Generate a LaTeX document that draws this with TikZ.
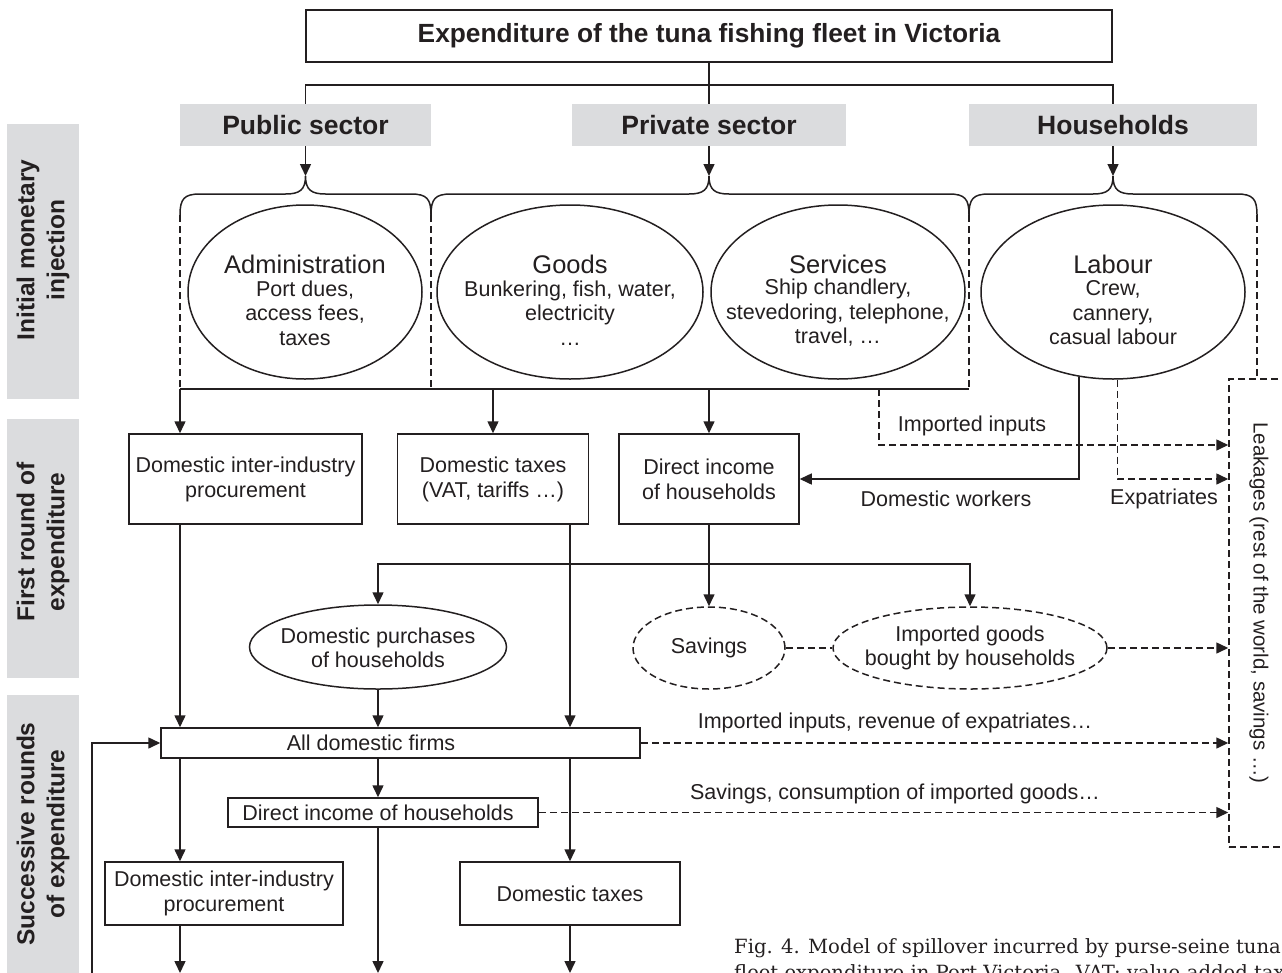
\documentclass[tikz,border=0pt]{standalone}
\usepackage{fontspec}
\setmainfont{Liberation Sans}
\newfontfamily\capfont{DejaVu Serif}
\usetikzlibrary{arrows.meta,shapes.geometric}
\definecolor{ink}{HTML}{231F20}
\definecolor{bandgray}{HTML}{DBDCDE}
\newcommand\fsz[2]{\fontsize{#1pt}{#2pt}\selectfont}
\newcommand\bracedraw[3]{%
  \draw[ln] (#1,215) .. controls (#1,199) and (#1+4,194) .. (#1+20,194) -- (#2-20,194)
    .. controls (#2-6,194) and (#2,190) .. (#2,176)
    .. controls (#2,190) and (#2+6,194) .. (#2+20,194) -- (#3-20,194)
    .. controls (#3-4,194) and (#3,199) .. (#3,215);}
\tikzset{
  ln/.style={draw=ink, line width=1.5pt},
  arr/.style={ln, -{Triangle[length=12pt,width=11pt]}},
  dsh/.style={ln, dash pattern=on 7pt off 4pt},
  darr/.style={dsh, -{Triangle[length=12pt,width=11pt]}},
  box/.style={draw=ink, line width=1.5pt, rectangle, inner sep=0pt, align=center, text=ink, font=\fsz{21.5}{25}},
  hdr/.style={fill=bandgray, rectangle, inner sep=0pt, align=center, text=ink, font=\bfseries\fsz{26.5}{30}},
  sideband/.style={fill=bandgray, rectangle, inner sep=0pt, minimum width=72},
  sidetext/.style={inner sep=0pt, align=center, text=ink, font=\bfseries\fsz{24.5}{30}, rotate=90},
  ell/.style={draw=ink, line width=1.5pt, ellipse, inner sep=0pt},
  dell/.style={ell, dash pattern=on 7pt off 4pt},
  txt/.style={inner sep=0pt, align=center, text=ink, font=\fsz{21.5}{24.5}},
  hd/.style={inner sep=0pt, text=ink, font=\fsz{25.5}{28}},
  captxt/.style={anchor=base west, inner sep=0pt, text=ink, font=\capfont\fsz{19.6}{26}},
}
\begin{document}
\begin{tikzpicture}[x=1pt,y=-1pt]
\useasboundingbox (0,0) rectangle (1282,972);
\clip (0,0) rectangle (1282,972);

% side bands
\node[sideband, minimum height=275] (s1) at (43,261.5) {};
\node[sideband, minimum height=259] (s2) at (43,548.5) {};
\node[sideband, minimum height=278] (s3) at (43,834) {};
\node[sidetext] (s1t) at (43,250) {Initial monetary\\injection};
\node[sidetext] (s2t) at (43,542) {First round of\\expenditure};
\node[sidetext] (s3t) at (43,834) {Successive rounds\\of expenditure};

% title and sectors
\node[box, font=\bfseries\fsz{26.3}{30}, minimum width=806, minimum height=52] (title) at (709,36) {Expenditure of the tuna fishing fleet in Victoria};
\node[hdr, minimum width=251, minimum height=42] (pub) at (305.5,125) {Public sector};
\node[hdr, minimum width=274, minimum height=42] (priv) at (709,125) {Private sector};
\node[hdr, minimum width=288, minimum height=42] (hh) at (1113,125) {Households};

\coordinate (tj) at (709,85);
\draw[ln] (title.south) -- (priv.north);
\draw[ln] (pub.north) |- (tj) -| (hh.north);

\coordinate (pubtip) at (305.5,176);
\coordinate (privtip) at (709,176);
\coordinate (hhtip) at (1113,176);
\draw[arr] (pub.south) -- (pubtip);
\draw[arr] (priv.south) -- (privtip);
\draw[arr] (hh.south) -- (hhtip);

\bracedraw{180}{305.5}{431}
\bracedraw{431}{709}{969}
\bracedraw{969}{1113}{1257}

% ellipses of initial injection
\node[ell, minimum width=234, minimum height=174] (adm) at (305,292) {};
\node[ell, minimum width=266, minimum height=174] (goods) at (570,292) {};
\node[ell, minimum width=254, minimum height=174] (serv) at (838,292) {};
\node[ell, minimum width=264, minimum height=174] (lab) at (1113,292) {};
\node[hd] (admh) at (305,264) {Administration};
\node[txt] (admt) at (305,313) {Port dues,\\access fees,\\taxes};
\node[hd] (goodsh) at (570,264) {Goods};
\node[txt] (goodst) at (570,313) {Bunkering, fish, water,\\electricity\\…};
\node[hd] (servh) at (838,264) {Services};
\node[txt] (servt) at (838,313) {Ship chandlery,\\stevedoring, telephone,\\travel, …};
\node[hd] (labh) at (1113,264) {Labour};
\node[txt] (labt) at (1113,313) {Crew,\\cannery,\\casual labour};

% leakage box
\node[draw=ink, line width=1.5pt, dash pattern=on 7pt off 4pt, rectangle, inner sep=0pt, minimum width=71, minimum height=468] (leak) at (1264.5,613) {};
\node[txt, font=\fsz{20.5}{24}, rotate=-90] (leakt) at (1259,603) {Leakages (rest of the world, savings …)};

% dashed verticals under braces
\coordinate (v1) at (180,215);
\coordinate (v2) at (431,215);
\coordinate (v3) at (969,215);
\coordinate (v4) at (1257,215);
\coordinate (h1) at (180,389);
\coordinate (h3) at (969,389);
\draw[dsh] (v1) -- (h1);
\draw[dsh] (v2) -- (v2 |- h1);
\draw[dsh] (v3) -- (h3);
\draw[dsh] (v4) -- (v4 |- leak.north);
\draw[ln] (h1) -- (h3);

% first round boxes
\node[box, minimum width=233, minimum height=90] (dip1) at (245.5,479) {Domestic inter-industry\\procurement};
\node[box, minimum width=191, minimum height=90] (dt1) at (493,479) {Domestic taxes\\(VAT, tariffs …)};
\node[box, minimum width=180, minimum height=90] (dih1) at (709,479) {Direct income\\of households};

\draw[arr] (h1) -- (dip1.north -| h1);
\draw[arr] (dt1.north |- h1) -- (dt1.north);
\draw[arr] (dih1.north |- h1) -- (dih1.north);

% imported inputs
\coordinate (ii) at (879,389);
\coordinate (r445) at (0,445);
\draw[darr] (ii) |- (leak.west |- r445);
\node[txt] (iil) at (972,426) {Imported inputs};

% labour flows
\draw[arr] (lab.248) |- (dih1.east);
\draw[darr] (lab.273) |- (leak.west |- dih1.east);
\node[txt] (dwl) at (946,499) {Domestic workers};
\node[txt] (exl) at (1164,499) {Expatriates};

% household spending
\node[ell, minimum width=257, minimum height=84] (dp) at (378,647) {};
\node[txt] (dpt) at (378,648) {Domestic purchases\\of households};
\node[dell, minimum width=152, minimum height=82] (sav) at (709,648) {};
\node[txt] (savt) at (709,648) {Savings};
\node[dell, minimum width=274, minimum height=82] (ig) at (970,648) {};
\node[txt] (igt) at (970,648) {Imported goods\\bought by households};

\coordinate (sp) at (709,564);
\draw[ln] (dih1.south) -- (sp);
\draw[arr] (sp) -- (sav.north);
\draw[arr] (sp) -| (dp.north);
\draw[arr] (sp) -| (ig.north);
\draw[dsh] (sav.east) -- (ig.west);
\draw[darr] (ig.east) -- (leak.west |- ig.east);

% successive rounds
\node[box, minimum width=479, minimum height=30] (adf) at (400.5,743) {};
\node[txt] (adft) at (371,743) {All domestic firms};
\coordinate (c570) at (570,0);

\draw[arr] (dip1.south -| h1) -- (adf.north -| h1);
\draw[arr] (dp.south) -- (adf.north -| dp.south);
\draw[arr] (dt1.south -| c570) -- (adf.north -| c570);

\coordinate (fb) at (92,990);
\draw[arr] (fb) |- (adf.west);

\draw[darr] (adf.east) -- (leak.west |- adf.east);
\node[txt] (adfl) at (895,723) {Imported inputs, revenue of expatriates…};

\node[box, minimum width=310, minimum height=29] (dih2) at (383,812.5) {};
\node[txt] (dih2t) at (378,812.5) {Direct income of households};
\node[box, minimum width=238, minimum height=63] (dip2) at (224,893.5) {Domestic inter-industry\\procurement};
\node[box, minimum width=220, minimum height=63] (dt2) at (570,893.5) {Domestic taxes};

\draw[arr] (adf.south -| h1) -- (dip2.north -| h1);
\draw[arr] (adf.south -| dp.south) -- (dih2.north -| dp.south);
\draw[arr] (adf.south -| c570) -- (dt2.north -| c570);

\draw[darr] (dih2.east) -- (leak.west |- dih2.east);
\node[txt] (dih2l) at (895,794) {Savings, consumption of imported goods…};

\coordinate (e1) at (180,973);
\coordinate (e2) at (378,973);
\coordinate (e3) at (570,973);
\draw[arr] (dip2.south -| h1) -- (e1);
\draw[arr] (dih2.south -| dp.south) -- (e2);
\draw[arr] (dt2.south -| c570) -- (e3);

% caption (cut by the frame, as in the reference)
\node[captxt] (cap1) at (734,953) {Fig. 4. Model of spillover incurred by purse-seine tuna};
\node[captxt] (cap2) at (734,979) {fleet expenditure in Port Victoria. VAT: value-added tax};
\end{tikzpicture}
\end{document}
